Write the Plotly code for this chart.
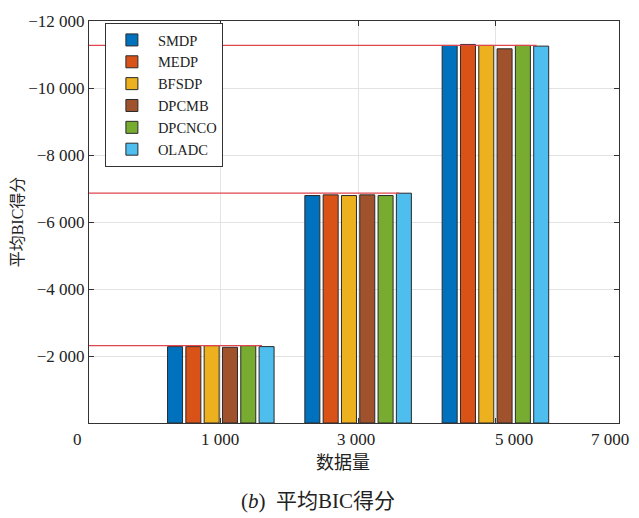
import plotly.graph_objects as go

# ---- data ----
groups = [1, 2, 3]                      # positions of the three data-size groups
series_names = ["SMDP", "MEDP", "BFSDP", "DPCMB", "DPCNCO", "OLADC"]
smdp   = [-2280, -6790, -11270]
medp   = [-2280, -6810, -11300]
bfsdp  = [-2310, -6790, -11270]
dpcmb  = [-2260, -6810, -11170]
dpcnco = [-2310, -6790, -11270]
oladc  = [-2280, -6860, -11250]
ref_lines = [-2310, -6860, -11270]      # red reference levels
x_tick_labels = ["0", "1 000", "3 000", "5 000", "7 000"]
y_tick_vals = [-12000, -10000, -8000, -6000, -4000, -2000]
y_tick_text = ["\u221212 000", "\u221210 000", "\u22128 000", "\u22126 000", "\u22124 000", "\u22122 000"]

# ---- style ----
colors = ["#0072BD", "#D95319", "#EDB120", "#A0522D", "#77AC30", "#4DBEEE"]
FONT = "Liberation Serif, 'Noto Sans CJK SC', serif"
X_RANGE = [0.04, 3.9]
label_px = [77, 220, 356, 514, 610]     # pixel centres of x tick labels
L, R, T, B = 89, 20, 13, 95
W, H = 639, 518
pw = W - L - R
ph = H - T - B

def py(pix):
    return -(pix - (H - B)) / ph

fig = go.Figure()
all_series = [smdp, medp, bfsdp, dpcmb, dpcnco, oladc]
for name, vals, c in zip(series_names, all_series, colors):
    fig.add_trace(go.Bar(x=groups, y=vals, name=name, marker=dict(color=c, line=dict(color="#2a2a2a", width=1))))

for g, v in zip(groups, ref_lines):
    fig.add_shape(type="line", xref="x", yref="y", x0=X_RANGE[0], x1=g + 0.3, y0=v, y1=v,
                  line=dict(color="#e0464e", width=1.3), layer="above")

annotations = []
for txt, px in zip(x_tick_labels, label_px):
    annotations.append(dict(text=txt, xref="paper", yref="paper", x=(px - L) / pw, y=py(440),
                            showarrow=False, xanchor="center", yanchor="middle", font=dict(size=17, color="#222")))
annotations.append(dict(text="数据量", xref="paper", yref="paper", x=(343 - L) / pw, y=py(464),
                        showarrow=False, xanchor="center", yanchor="middle", font=dict(size=18, color="#222")))
annotations.append(dict(text="(<i>b</i>)  平均BIC得分", xref="paper", yref="paper", x=(318 - L) / pw,
                        y=py(503),
                        showarrow=False, xanchor="center", yanchor="middle", font=dict(size=21, color="#222")))

fig.update_layout(
    width=W, height=H,
    margin=dict(l=L, r=R, t=T, b=B),
    paper_bgcolor="white", plot_bgcolor="white",
    font=dict(family=FONT, size=16, color="#222"),
    barmode="group", bargap=0.2, bargroupgap=0.18,
    annotations=annotations,
    legend=dict(x=0.03, y=0.995, xanchor="left", yanchor="top", bgcolor="white",
                bordercolor="#333", borderwidth=1, font=dict(size=14.5, family=FONT),
                itemwidth=42, tracegroupgap=0),
    xaxis=dict(range=X_RANGE, tickvals=groups, showticklabels=False, ticks="inside", ticklen=5,
               tickcolor="#333", showgrid=True, gridcolor="#e3e3e3", gridwidth=1,
               showline=True, linecolor="#333", linewidth=1, mirror="allticks", zeroline=False),
    yaxis=dict(range=[0, -12000], tickvals=y_tick_vals, ticktext=y_tick_text, ticks="inside", ticklen=5,
               tickcolor="#333", showgrid=True, gridcolor="#e3e3e3", gridwidth=1,
               showline=True, linecolor="#333", linewidth=1, mirror="allticks", zeroline=False,
               tickfont=dict(size=17), title=dict(text="平均BIC得分", font=dict(size=16), standoff=0)),
)

fig.write_html("out.html")
